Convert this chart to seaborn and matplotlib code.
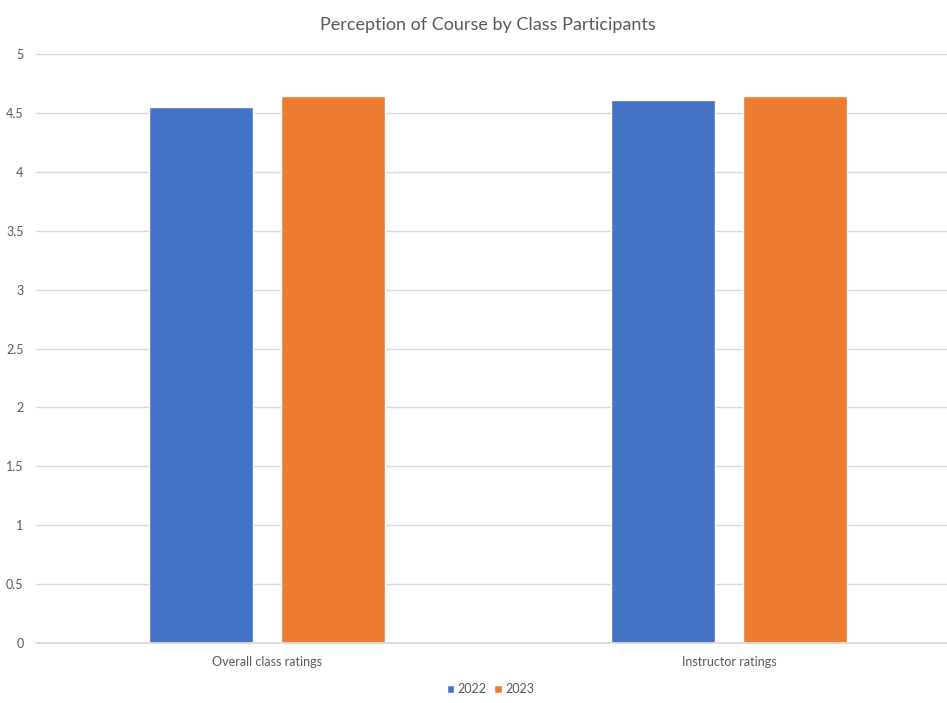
import matplotlib
matplotlib.use("Agg")
import matplotlib.pyplot as plt
import seaborn as sns
import pandas as pd

# values
categories = ["Overall class ratings", "Instructor ratings"]
years = ["2022", "2023"]
ratings_2022 = [4.55, 4.61]
ratings_2023 = [4.64, 4.64]
y_ticks = [0, 0.5, 1, 1.5, 2, 2.5, 3, 3.5, 4, 4.5, 5]

df = pd.DataFrame({
    "category": categories * 2,
    "year": [years[0]] * 2 + [years[1]] * 2,
    "rating": ratings_2022 + ratings_2023,
})

sns.set_theme(style="white")
plt.rcParams["font.family"] = ["Lato", "DejaVu Sans"]
text_color = "#595959"

fig = plt.figure(figsize=(9.47, 7.03), dpi=100)
ax = fig.add_axes([0.038, 0.0853, 0.9757, 0.8378])

sns.barplot(data=df, x="category", y="rating", hue="year",
            palette=["#4472C4", "#ED7D31"], width=0.569, gap=0.21,
            saturation=1, ax=ax, legend=True)

ax.set_xlim(-0.5, 1.5)
ax.set_ylim(0, 5)
ax.set_yticks(y_ticks)
ax.set_yticklabels([f"{t:g}" for t in y_ticks])
ax.yaxis.grid(True, color="#D9D9D9", linewidth=1)
ax.set_axisbelow(True)
for side in ["top", "right", "left"]:
    ax.spines[side].set_visible(False)
ax.spines["bottom"].set_color("#D9D9D9")
ax.tick_params(axis="both", colors=text_color, labelsize=9, length=0)
ax.tick_params(axis="y", pad=9)
ax.tick_params(axis="x", pad=9)
ax.set_xlabel("")
ax.set_ylabel("")

fig.text(0.515, 0.965, "Perception of Course by Class Participants",
         ha="center", va="center", fontsize=13, color=text_color)

handles, labels = ax.get_legend_handles_labels()
ax.legend_.remove()
fig.legend(handles, labels, loc="center", bbox_to_anchor=(0.518, 0.02),
           ncol=2, frameon=False, fontsize=9, labelcolor=text_color,
           handlelength=0.6, handleheight=0.6, handletextpad=0.3,
           columnspacing=0.6)

fig.savefig("out.png", dpi=100)
